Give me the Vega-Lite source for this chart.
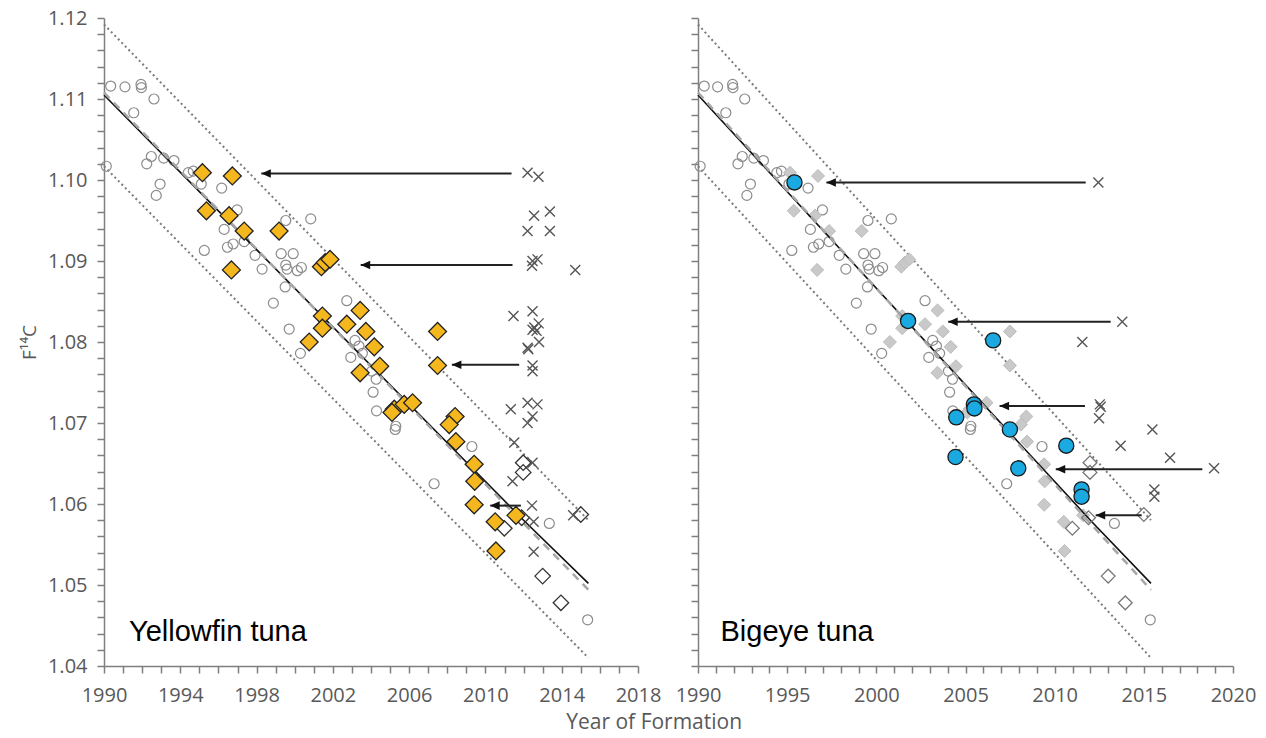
{
  "$schema": "https://vega.github.io/schema/vega-lite/v6.json",
  "padding": {"left": 20, "top": 8, "right": 5, "bottom": 6},
  "bounds": "flush",
  "spacing": 60,
  "title": {"text": "Year of Formation", "orient": "bottom", "anchor": "middle", "font": "Open Sans", "fontSize": 21, "fontWeight": "normal", "color": "#595959", "offset": 7, "dx": 16},
  "config": {
    "view": {"stroke": null},
    "axis": {"grid": false, "domainColor": "#7f7f7f", "domainWidth": 1.5, "tickColor": "#7f7f7f", "tickWidth": 1.5, "tickSize": 7, "labelFont": "Open Sans", "labelFontSize": 20, "labelColor": "#595959", "labelOverlap": false, "labelFlush": false, "titleFont": "Open Sans", "titleFontSize": 19, "titleFontWeight": "normal", "titleColor": "#595959"}
  },
  "datasets": {
    "lines": [
      {"s": "up", "year": 1990, "f": 1.1192}, {"s": "up", "year": 2015.4, "f": 1.058},
      {"s": "lo", "year": 1990, "f": 1.1017}, {"s": "lo", "year": 2015.4, "f": 1.041},
      {"s": "fit", "year": 1990, "f": 1.1105}, {"s": "fit", "year": 2012, "f": 1.058}, {"s": "fit", "year": 2015.4, "f": 1.0502},
      {"s": "lin", "year": 1990, "f": 1.1108}, {"s": "lin", "year": 2015.4, "f": 1.0494}
    ],
    "ref": [
      {"year": 1990.35, "f": 1.1116}, {"year": 1991.1, "f": 1.1115}, {"year": 1991.94, "f": 1.1118}, {"year": 1991.96, "f": 1.1114}, {"year": 1992.62, "f": 1.11}, {"year": 1991.56, "f": 1.1083}, {"year": 1990.12, "f": 1.1017}, {"year": 1992.48, "f": 1.1029}, {"year": 1992.24, "f": 1.102}, {"year": 1993.13, "f": 1.1027}, {"year": 1993.67, "f": 1.1024}, {"year": 1994.42, "f": 1.1009}, {"year": 1994.68, "f": 1.1011}, {"year": 1995.1, "f": 1.0995}, {"year": 1992.94, "f": 1.0995}, {"year": 1992.74, "f": 1.0981}, {"year": 1996.17, "f": 1.099}, {"year": 1996.98, "f": 1.0963}, {"year": 1996.3, "f": 1.0939}, {"year": 1996.77, "f": 1.0921}, {"year": 1996.47, "f": 1.0917}, {"year": 1997.35, "f": 1.0924}, {"year": 1995.26, "f": 1.0913}, {"year": 1999.53, "f": 1.095}, {"year": 2000.84, "f": 1.0952}, {"year": 1997.92, "f": 1.0907}, {"year": 1998.29, "f": 1.089}, {"year": 1999.29, "f": 1.0909}, {"year": 1999.92, "f": 1.0909}, {"year": 1999.53, "f": 1.0895}, {"year": 1999.6, "f": 1.089}, {"year": 2000.14, "f": 1.0888}, {"year": 2000.35, "f": 1.0892}, {"year": 1999.5, "f": 1.0868}, {"year": 1998.88, "f": 1.0848}, {"year": 1999.71, "f": 1.0816}, {"year": 2000.3, "f": 1.0786}, {"year": 2002.73, "f": 1.0851}, {"year": 2003.16, "f": 1.0802}, {"year": 2003.37, "f": 1.0795}, {"year": 2003.55, "f": 1.0786}, {"year": 2002.94, "f": 1.0781}, {"year": 2004.04, "f": 1.0764}, {"year": 2004.27, "f": 1.0754}, {"year": 2004.11, "f": 1.0738}, {"year": 2004.29, "f": 1.0715}, {"year": 2005.27, "f": 1.0692}, {"year": 2005.3, "f": 1.0696}, {"year": 2009.29, "f": 1.0671}, {"year": 2007.31, "f": 1.0625}, {"year": 2013.35, "f": 1.0576}, {"year": 2015.36, "f": 1.0457}
    ],
    "yft": [
      {"year": 1995.16, "f": 1.1009}, {"year": 1996.73, "f": 1.1005}, {"year": 1995.37, "f": 1.0962}, {"year": 1996.56, "f": 1.0956}, {"year": 1997.35, "f": 1.0937}, {"year": 1999.18, "f": 1.0937}, {"year": 1996.68, "f": 1.0889}, {"year": 2001.4, "f": 1.0893}, {"year": 2001.6, "f": 1.0898}, {"year": 2001.85, "f": 1.0902}, {"year": 2001.45, "f": 1.0832}, {"year": 2001.45, "f": 1.0817}, {"year": 2000.76, "f": 1.08}, {"year": 2003.43, "f": 1.0839}, {"year": 2002.73, "f": 1.0822}, {"year": 2003.73, "f": 1.0813}, {"year": 2004.17, "f": 1.0794}, {"year": 2004.46, "f": 1.077}, {"year": 2003.43, "f": 1.0762}, {"year": 2005.22, "f": 1.0717}, {"year": 2005.1, "f": 1.0713}, {"year": 2005.74, "f": 1.0723}, {"year": 2006.18, "f": 1.0725}, {"year": 2007.49, "f": 1.0813}, {"year": 2007.49, "f": 1.0771}, {"year": 2008.41, "f": 1.0708}, {"year": 2008.1, "f": 1.0698}, {"year": 2008.45, "f": 1.0677}, {"year": 2009.41, "f": 1.0649}, {"year": 2009.44, "f": 1.0628}, {"year": 2009.41, "f": 1.0599}, {"year": 2010.51, "f": 1.0578}, {"year": 2011.6, "f": 1.0586}, {"year": 2010.55, "f": 1.0542}
    ],
    "open": [
      {"year": 2011.98, "f": 1.0651}, {"year": 2011.98, "f": 1.0639}, {"year": 2010.99, "f": 1.057}, {"year": 2011.9, "f": 1.0583}, {"year": 2015.0, "f": 1.0587}, {"year": 2013.0, "f": 1.0511}, {"year": 2013.96, "f": 1.0478}
    ],
    "yftx": [
      {"year": 2012.21, "f": 1.1009}, {"year": 2012.78, "f": 1.1004}, {"year": 2013.38, "f": 1.0961}, {"year": 2012.55, "f": 1.0956}, {"year": 2012.21, "f": 1.0937}, {"year": 2013.38, "f": 1.0937}, {"year": 2012.47, "f": 1.09}, {"year": 2012.73, "f": 1.0902}, {"year": 2012.44, "f": 1.0894}, {"year": 2014.71, "f": 1.0889}, {"year": 2011.47, "f": 1.0832}, {"year": 2012.47, "f": 1.0838}, {"year": 2012.56, "f": 1.0818}, {"year": 2012.79, "f": 1.0823}, {"year": 2012.68, "f": 1.0814}, {"year": 2012.47, "f": 1.0815}, {"year": 2012.81, "f": 1.08}, {"year": 2012.21, "f": 1.0793}, {"year": 2012.25, "f": 1.0791}, {"year": 2012.47, "f": 1.0771}, {"year": 2012.47, "f": 1.0764}, {"year": 2011.33, "f": 1.0717}, {"year": 2012.21, "f": 1.0725}, {"year": 2012.73, "f": 1.0723}, {"year": 2012.47, "f": 1.0708}, {"year": 2012.21, "f": 1.07}, {"year": 2011.51, "f": 1.0676}, {"year": 2012.47, "f": 1.0651}, {"year": 2011.42, "f": 1.0628}, {"year": 2012.44, "f": 1.0598}, {"year": 2012.53, "f": 1.0578}, {"year": 2012.53, "f": 1.0541}, {"year": 2014.6, "f": 1.0586}
    ],
    "bet": [
      {"year": 1995.41, "f": 1.0997}, {"year": 2001.78, "f": 1.0826}, {"year": 2004.48, "f": 1.0707}, {"year": 2005.47, "f": 1.0723}, {"year": 2005.5, "f": 1.0718}, {"year": 2006.55, "f": 1.0802}, {"year": 2007.49, "f": 1.0692}, {"year": 2010.65, "f": 1.0672}, {"year": 2007.96, "f": 1.0644}, {"year": 2011.51, "f": 1.0618}, {"year": 2011.51, "f": 1.0609}, {"year": 2004.44, "f": 1.0658}
    ],
    "betx": [
      {"year": 2012.45, "f": 1.0997}, {"year": 2013.79, "f": 1.0825}, {"year": 2011.55, "f": 1.08}, {"year": 2012.53, "f": 1.0723}, {"year": 2012.58, "f": 1.072}, {"year": 2012.49, "f": 1.0706}, {"year": 2015.48, "f": 1.0692}, {"year": 2013.7, "f": 1.0672}, {"year": 2016.47, "f": 1.0657}, {"year": 2018.94, "f": 1.0644}, {"year": 2015.59, "f": 1.0618}, {"year": 2015.59, "f": 1.0609}
    ],
    "arrowsL": [
      {"year": 1998.25, "year2": 2011.37, "f": 1.1008}, {"year": 2003.46, "year2": 2011.42, "f": 1.0895}, {"year": 2008.24, "year2": 2011.77, "f": 1.0772}, {"year": 2010.25, "year2": 2011.86, "f": 1.0598}
    ],
    "arrowsR": [
      {"year": 1997.2, "year2": 2011.74, "f": 1.0997}, {"year": 2004.03, "year2": 2013.14, "f": 1.0825}, {"year": 2006.91, "year2": 2011.7, "f": 1.0721}, {"year": 2010.06, "year2": 2018.28, "f": 1.0643}, {"year": 2012.3, "year2": 2014.88, "f": 1.0586}
    ]
  },
  "hconcat": [
    {
      "width": 534,
      "height": 648,
      "encoding": {
        "x": {"field": "year", "type": "quantitative", "scale": {"domain": [1990, 2018], "nice": false, "zero": false},
          "axis": {"title": null, "format": "d", "values": [1990,1991,1992,1993,1994,1995,1996,1997,1998,1999,2000,2001,2002,2003,2004,2005,2006,2007,2008,2009,2010,2011,2012,2013,2014,2015,2016,2017,2018],
            "labelExpr": "(datum.value - 1990) % 4 === 0 ? datum.label : ''", "labelPadding": 12,
            "encode": {"ticks": {"update": {"y": {"signal": "(datum.value - 1990) % 4 === 0 ? -7 : -6"}, "y2": {"signal": "(datum.value - 1990) % 4 === 0 ? 7 : 0"}}}}}},
        "y": {"field": "f", "type": "quantitative", "scale": {"domain": [1.04, 1.12], "nice": false, "zero": false},
          "axis": {"title": "F¹⁴C", "titlePadding": 8, "format": ".2f", "values": [1.04,1.042,1.044,1.046,1.048,1.05,1.052,1.054,1.056,1.058,1.06,1.062,1.064,1.066,1.068,1.07,1.072,1.074,1.076,1.078,1.08,1.082,1.084,1.086,1.088,1.09,1.092,1.094,1.096,1.098,1.1,1.102,1.104,1.106,1.108,1.11,1.112,1.114,1.116,1.118,1.12],
            "labelExpr": "abs(datum.value*100 - round(datum.value*100)) < 0.01 ? datum.label : ''", "labelPadding": 10,
            "encode": {"ticks": {"update": {"x": {"signal": "abs(datum.value*100 - round(datum.value*100)) < 0.01 ? 7 : 6"}, "x2": {"signal": "abs(datum.value*100 - round(datum.value*100)) < 0.01 ? -7 : 0"}}}}}}
      },
      "layer": [
        {"data": {"name": "lines"}, "transform": [{"filter": "datum.s === 'up' || datum.s === 'lo'"}], "mark": {"type": "line", "stroke": "#7a7a7a", "strokeWidth": 2, "strokeDash": [2, 3]}, "encoding": {"detail": {"field": "s"}}},
        {"data": {"name": "ref"}, "mark": {"type": "point", "shape": "circle", "filled": false, "stroke": "#8c8c8c", "strokeWidth": 1.2, "size": 100, "opacity": 1}},
        {"data": {"name": "lines"}, "transform": [{"filter": "datum.s === 'fit'"}], "mark": {"type": "line", "stroke": "#111111", "strokeWidth": 1.6}, "encoding": {"detail": {"field": "s"}}},
        {"data": {"name": "lines"}, "transform": [{"filter": "datum.s === 'lin'"}], "mark": {"type": "line", "stroke": "#a6a6a6", "strokeWidth": 2.5, "strokeDash": [8, 6]}, "encoding": {"detail": {"field": "s"}}},
        {"data": {"name": "open"}, "mark": {"type": "point", "shape": "diamond", "filled": false, "stroke": "#333333", "strokeWidth": 1.3, "size": 240, "opacity": 1}},
        {"data": {"name": "yftx"}, "mark": {"type": "point", "shape": "M-1,-1L1,1M-1,1L1,-1", "filled": false, "stroke": "#555555", "strokeWidth": 1.4, "size": 100, "opacity": 1}},
        {"data": {"name": "yft"}, "mark": {"type": "point", "shape": "diamond", "filled": true, "fill": "#F4B71E", "stroke": "#222222", "strokeWidth": 1.3, "size": 320, "opacity": 1}},
        {"data": {"name": "arrowsL"}, "mark": {"type": "rule", "stroke": "#222222", "strokeWidth": 2}, "encoding": {"x2": {"field": "year2"}}},
        {"data": {"name": "arrowsL"}, "mark": {"type": "point", "shape": "M0,0L2,-0.9L2,0.9Z", "filled": true, "color": "#111111", "size": 90, "opacity": 1}},
        {"data": {"values": [{"year": 1991.31, "f": 1.0431, "label": "Yellowfin tuna"}]}, "mark": {"type": "text", "align": "left", "baseline": "alphabetic", "font": "Liberation Sans", "fontSize": 29, "color": "#000000"}, "encoding": {"text": {"field": "label"}}}
      ]
    },
    {
      "width": 535,
      "height": 648,
      "encoding": {
        "x": {"field": "year", "type": "quantitative", "scale": {"domain": [1990, 2020], "nice": false, "zero": false},
          "axis": {"title": null, "format": "d", "values": [1990,1991,1992,1993,1994,1995,1996,1997,1998,1999,2000,2001,2002,2003,2004,2005,2006,2007,2008,2009,2010,2011,2012,2013,2014,2015,2016,2017,2018,2019,2020],
            "labelExpr": "(datum.value - 1990) % 5 === 0 ? datum.label : ''", "labelPadding": 12,
            "encode": {"ticks": {"update": {"y": {"signal": "(datum.value - 1990) % 5 === 0 ? -7 : -6"}, "y2": {"signal": "(datum.value - 1990) % 5 === 0 ? 7 : 0"}}}}}},
        "y": {"field": "f", "type": "quantitative", "scale": {"domain": [1.04, 1.12], "nice": false, "zero": false},
          "axis": {"title": null, "labels": false, "values": [1.04,1.042,1.044,1.046,1.048,1.05,1.052,1.054,1.056,1.058,1.06,1.062,1.064,1.066,1.068,1.07,1.072,1.074,1.076,1.078,1.08,1.082,1.084,1.086,1.088,1.09,1.092,1.094,1.096,1.098,1.1,1.102,1.104,1.106,1.108,1.11,1.112,1.114,1.116,1.118,1.12],
            "encode": {"ticks": {"update": {"x": {"signal": "abs(datum.value*100 - round(datum.value*100)) < 0.01 ? 7 : 6"}, "x2": {"signal": "abs(datum.value*100 - round(datum.value*100)) < 0.01 ? -7 : 0"}}}}}}
      },
      "layer": [
        {"data": {"name": "lines"}, "transform": [{"filter": "datum.s === 'up' || datum.s === 'lo'"}], "mark": {"type": "line", "stroke": "#7a7a7a", "strokeWidth": 2, "strokeDash": [2, 3]}, "encoding": {"detail": {"field": "s"}}},
        {"data": {"name": "ref"}, "mark": {"type": "point", "shape": "circle", "filled": false, "stroke": "#8c8c8c", "strokeWidth": 1.2, "size": 100, "opacity": 1}},
        {"data": {"name": "yft"}, "mark": {"type": "point", "shape": "diamond", "filled": true, "fill": "#C9C9C9", "stroke": "#BDBDBD", "strokeWidth": 1, "size": 170, "opacity": 1}},
        {"data": {"name": "lines"}, "transform": [{"filter": "datum.s === 'fit'"}], "mark": {"type": "line", "stroke": "#111111", "strokeWidth": 1.6}, "encoding": {"detail": {"field": "s"}}},
        {"data": {"name": "lines"}, "transform": [{"filter": "datum.s === 'lin'"}], "mark": {"type": "line", "stroke": "#a6a6a6", "strokeWidth": 2.5, "strokeDash": [8, 6]}, "encoding": {"detail": {"field": "s"}}},
        {"data": {"name": "open"}, "mark": {"type": "point", "shape": "diamond", "filled": false, "stroke": "#777777", "strokeWidth": 1.3, "size": 190, "opacity": 1}},
        {"data": {"name": "betx"}, "mark": {"type": "point", "shape": "M-1,-1L1,1M-1,1L1,-1", "filled": false, "stroke": "#555555", "strokeWidth": 1.4, "size": 100, "opacity": 1}},
        {"data": {"name": "bet"}, "mark": {"type": "point", "shape": "circle", "filled": true, "fill": "#1AA9E1", "stroke": "#1a1a1a", "strokeWidth": 1.3, "size": 230, "opacity": 1}},
        {"data": {"name": "arrowsR"}, "mark": {"type": "rule", "stroke": "#222222", "strokeWidth": 2}, "encoding": {"x2": {"field": "year2"}}},
        {"data": {"name": "arrowsR"}, "mark": {"type": "point", "shape": "M0,0L2,-0.9L2,0.9Z", "filled": true, "color": "#111111", "size": 90, "opacity": 1}},
        {"data": {"values": [{"year": 1991.26, "f": 1.0431, "label": "Bigeye tuna"}]}, "mark": {"type": "text", "align": "left", "baseline": "alphabetic", "font": "Liberation Sans", "fontSize": 29, "color": "#000000"}, "encoding": {"text": {"field": "label"}}}
      ]
    }
  ]
}
